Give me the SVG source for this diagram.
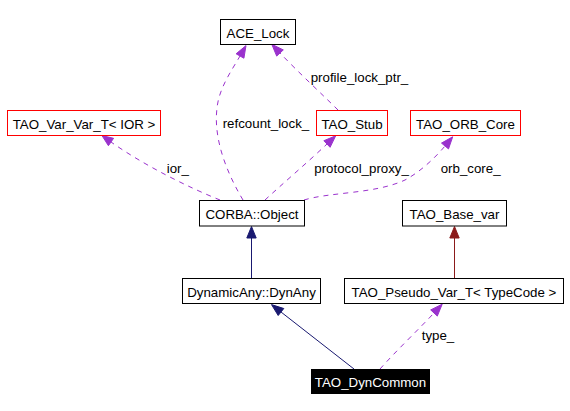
<svg xmlns="http://www.w3.org/2000/svg" width="570" height="411" viewBox="0 0 570 411">
<style>
text{font-family:"Liberation Sans",Arial,sans-serif;font-size:13.3px;fill:#000}
.c{text-anchor:middle}
.box{fill:#fff;stroke:#000;stroke-width:1}
.rbox{fill:#fff;stroke:#ff0000;stroke-width:1}
.dash{fill:none;stroke:#9a32cd;stroke-width:1;stroke-dasharray:5,5}
.pa{fill:#9a32cd;stroke:#9a32cd}
.nv{fill:none;stroke:#191970;stroke-width:1}
.na{fill:#191970;stroke:#191970}
.rd{fill:none;stroke:#8b1a1a;stroke-width:1}
.ra{fill:#8b1a1a;stroke:#8b1a1a}
</style>
<rect width="570" height="411" fill="#fff"/>
<g id="edges">
  <path class="nv" d="M251.5,278 L251.5,238"/>
  <polygon class="na" points="251.5,226.5 246.8,238 256.2,238"/>
  <path class="rd" d="M454.5,278 L454.5,238"/>
  <polygon class="ra" points="454.5,226.5 449.8,238 459.2,238"/>
  <path class="nv" d="M354,369 L281,312"/>
  <polygon class="na" points="271.5,304.6 283.8,308.5 278.2,315.5"/>
  <path class="dash" d="M380,369 C395,352 420,328 434,313"/>
  <polygon class="pa" points="442.2,304.2 437.3,316.1 430.7,309.9"/>
  <path class="dash" d="M220,200 C190,188 145,166 111,142"/>
  <polygon class="pa" points="102,135.6 113.6,138.3 108.4,145.7"/>
  <path class="dash" d="M243,200 C228,175 213,140 217,108 C219,88 232,70 240,56"/>
  <polygon class="pa" points="246,45.6 243.9,58.2 236.1,53.8"/>
  <path class="dash" d="M338,110 C325,97 298,72 280,53"/>
  <polygon class="pa" points="271.8,44.3 283.3,49.9 276.7,56.1"/>
  <path class="dash" d="M265,200 C280,186 308,162 327,144"/>
  <polygon class="pa" points="335.7,135.8 330.1,147.3 323.9,140.7"/>
  <path class="dash" d="M304,200 C330,192 375,194 405,180 C420,172 435,158 445,146"/>
  <polygon class="pa" points="452.7,136.8 448.5,148.9 441.5,143.1"/>
  <text x="166.7" y="172.5">ior_</text>
  <text x="222.7" y="127.5">refcount_lock_</text>
  <text x="310.7" y="82">profile_lock_ptr_</text>
  <text x="314.3" y="172.5">protocol_proxy_</text>
  <text x="440.7" y="172.5">orb_core_</text>
  <text x="421.7" y="340">type_</text>
</g>
<g id="ACE_Lock"><rect class="box" x="220.5" y="19.5" width="75" height="25"/><text class="c" x="258" y="38">ACE_Lock</text></g>
<g id="TAO_Var_Var_T"><rect class="rbox" x="7.5" y="110.5" width="153" height="25"/><text class="c" x="84" y="129">TAO_Var_Var_T&lt; IOR &gt;</text></g>
<g id="TAO_Stub"><rect class="rbox" x="316.5" y="110.5" width="71" height="25"/><text class="c" x="352" y="129">TAO_Stub</text></g>
<g id="TAO_ORB_Core"><rect class="rbox" x="410.5" y="110.5" width="110" height="25"/><text class="c" x="465.5" y="129">TAO_ORB_Core</text></g>
<g id="CORBA_Object"><rect class="box" x="199.5" y="200.5" width="105" height="25.5"/><text class="c" x="252" y="219">CORBA::Object</text></g>
<g id="TAO_Base_var"><rect class="box" x="402.5" y="200.5" width="104" height="25.5"/><text class="c" x="454.5" y="219">TAO_Base_var</text></g>
<g id="DynamicAny_DynAny"><rect class="box" x="182.5" y="278.5" width="138" height="25"/><text class="c" x="251.5" y="297">DynamicAny::DynAny</text></g>
<g id="TAO_Pseudo_Var_T"><rect class="box" x="344.5" y="278.5" width="219" height="25"/><text class="c" x="454" y="297">TAO_Pseudo_Var_T&lt; TypeCode &gt;</text></g>
<g id="TAO_DynCommon"><rect x="311" y="369" width="119" height="25" fill="#000"/><text class="c" x="370.5" y="387" style="fill:#fff">TAO_DynCommon</text></g>
</svg>
